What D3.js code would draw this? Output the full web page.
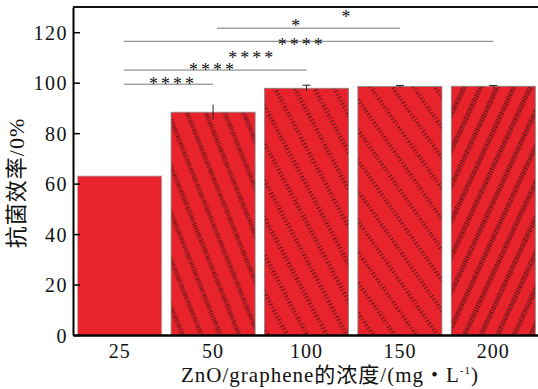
<!DOCTYPE html>
<html>
<head>
<meta charset="utf-8">
<script src="https://cdn.jsdelivr.net/npm/d3@7"></script>
<style>
  body { margin: 0; background: #fff; }
  svg { display: block; }
  text { font-family: "Liberation Serif", "Noto Sans CJK SC", serif; fill: #111; }
</style>
</head>
<body>
<script>
// concentrations (mg/L) and antibacterial rate (%)
const categories = ["25", "50", "100", "150", "200"];
const rates = [63.0, 88.3, 97.8, 98.5, 98.6];
const errors = [0, 3.0, 1.2, 0.4, 0.3];
const yTicks = [0, 20, 40, 60, 80, 100, 120];

// significance brackets: bar index pairs + height in % units
const sigLines = [
  { from: 0, to: 1, y: 99.4 },
  { from: 0, to: 2, y: 105.0 },
  { from: 0, to: 4, y: 116.4 },
  { from: 1, to: 3, y: 121.6 }
];
// star labels: position in bar-index units, height in % units
const sigMarks = [
  { pos: 0.57, y: 101.0, text: "****" },
  { pos: 1.0, y: 106.5, text: "****" },
  { pos: 1.42, y: 111.3, text: "****" },
  { pos: 1.95, y: 116.2, text: "****" },
  { pos: 1.9, y: 123.9, text: "*" },
  { pos: 2.44, y: 127.4, text: "*" }
];

const W = 538, H = 389;
const mLeft = 73, mRight = 540, mTop = 7, mBottom = 335;
const red = "#e8232b";

const svg = d3.select("body").append("svg").attr("width", W).attr("height", H);

const x = d3.scaleBand().domain(categories).range([mLeft, mRight]).paddingInner(0.1).paddingOuter(0.05);
const y = d3.scaleLinear().domain([0, 130]).range([mBottom, mTop]);
const step = x.step();
const center = i => x(categories[i]) + x.bandwidth() / 2;

// hatch patterns (bar 0 is plain)
const hatch = [null,
  { rot: -22, s: 17.5, band: 4.5, dash: "0.9 1.6" },
  { rot: -28, s: 17.5, band: 4.5, dash: "0.9 2.6" },
  { rot: -35, s: 17.5, band: 4, dash: "0.9 2.6" },
  { rot: 25, s: 15, band: 5, dash: "0.9 1.6" }
];
const defs = svg.append("defs");
hatch.forEach((h, i) => {
  if (!h) return;
  const p = defs.append("pattern").attr("id", "hatch" + i)
    .attr("patternUnits", "userSpaceOnUse")
    .attr("width", h.s).attr("height", h.s)
    .attr("patternTransform", `rotate(${h.rot})`);
  p.append("rect").attr("width", h.s).attr("height", h.s).attr("fill", red);
  p.append("line").attr("x1", h.s / 2).attr("x2", h.s / 2).attr("y1", 0).attr("y2", h.s)
    .attr("stroke", "#4a1214").attr("stroke-width", h.band).attr("stroke-dasharray", h.dash);
});

// bars
svg.append("g").selectAll("rect").data(rates).join("rect")
  .attr("x", (d, i) => x(categories[i]))
  .attr("y", d => y(d))
  .attr("width", x.bandwidth())
  .attr("height", d => y(0) - y(d))
  .attr("fill", (d, i) => hatch[i] ? `url(#hatch${i})` : red)
  .attr("stroke", (d, i) => i === 0 ? "#aaa" : "#888")
  .attr("stroke-width", 0.8);

// error bars
const eb = svg.append("g").attr("stroke", "#222").attr("stroke-width", 1);
rates.forEach((d, i) => {
  if (!errors[i]) return;
  const cx = center(i);
  eb.append("line").attr("x1", cx).attr("x2", cx).attr("y1", y(d - errors[i])).attr("y2", y(d + errors[i]));
  if (i > 1) {
    eb.append("line").attr("x1", cx - 4).attr("x2", cx + 4).attr("y1", y(d + errors[i])).attr("y2", y(d + errors[i]));
  }
});

// significance lines + stars
svg.append("g").selectAll("line").data(sigLines).join("line")
  .attr("x1", d => center(d.from) + 4).attr("x2", d => center(d.to))
  .attr("y1", d => y(d.y)).attr("y2", d => y(d.y))
  .attr("stroke", "#777").attr("stroke-width", 1);

svg.append("g").selectAll("text").data(sigMarks).join("text")
  .attr("x", d => center(0) + d.pos * step)
  .attr("y", d => y(d.y) + 9.5)
  .attr("text-anchor", "middle")
  .attr("font-size", 18)
  .attr("letter-spacing", 3)
  .text(d => d.text);

// axes
const yAxis = svg.append("g").attr("transform", `translate(${mLeft},0)`)
  .call(d3.axisLeft(y).tickValues(yTicks).tickSizeInner(-7).tickSizeOuter(0).tickPadding(5));
yAxis.selectAll("text").attr("font-size", 20).attr("letter-spacing", 1.5).attr("dy", "0.35em");
yAxis.select(".domain").attr("stroke-width", 2);
yAxis.selectAll(".tick line").attr("stroke-width", 1.5);

const xAxis = svg.append("g").attr("transform", `translate(0,${mBottom})`)
  .call(d3.axisBottom(x).tickSize(0).tickPadding(9));
xAxis.selectAll("text").attr("font-size", 20).attr("letter-spacing", 1);
xAxis.select(".domain").attr("stroke-width", 2.5);

// top frame line
svg.append("line").attr("x1", mLeft).attr("x2", W).attr("y1", mTop).attr("y2", mTop)
  .attr("stroke", "#111").attr("stroke-width", 2);

// axis titles
const xt = svg.append("text").attr("x", 330).attr("y", 382).attr("text-anchor", "middle")
  .attr("font-size", 21).attr("letter-spacing", 1);
xt.append("tspan").text("ZnO/graphene的浓度/(mg・L");
xt.append("tspan").attr("font-size", 11).attr("dy", -8).text("-1");
xt.append("tspan").attr("dy", 8).text(")");

svg.append("text")
  .attr("transform", `translate(24,${(mTop + mBottom) / 2 + 12}) rotate(-90)`)
  .attr("text-anchor", "middle").attr("font-size", 22).attr("letter-spacing", 1)
  .text("抗菌效率/0%");
</script>
</body>
</html>
